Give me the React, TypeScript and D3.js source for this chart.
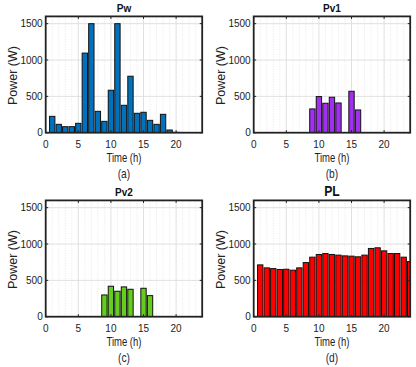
import React from "react";
import { scaleLinear, range } from "d3";

const hours = range(1, 25);
const pw = [225, 115, 83, 83, 129, 1095, 1500, 294, 156, 584, 1500, 377, 777, 267, 281, 170, 115, 253, 37, 5, 0, 0, 0, 0];
const pv1 = [0, 0, 0, 0, 0, 0, 0, 0, 327, 497, 405, 488, 409, 0, 570, 313, 0, 0, 0, 0, 0, 0, 0, 0];
const pv2 = [0, 0, 0, 0, 0, 0, 0, 0, 299, 419, 350, 410, 377, 0, 391, 290, 0, 0, 0, 0, 0, 0, 0, 0];
const pl = [713, 672, 662, 649, 653, 640, 672, 745, 819, 856, 869, 856, 847, 837, 833, 824, 847, 939, 948, 906, 869, 869, 819, 759];

const xTicks = [0, 5, 10, 15, 20];
const yTicks = [0, 500, 1000, 1500];

const FONT = "Liberation Sans, Arial, sans-serif";

type PanelProps = {
  id: string;
  left: number;
  top: number;
  values: number[];
  color: string;
  title: string;
  label: string;
  titleSize?: number;
};

function Panel({ id, left, top, values, color, title, label, titleSize = 11.5 }: PanelProps) {
  const w = 156.5;
  const h = 116.3;
  const x = scaleLinear().domain([0, 24]).range([left, left + w]);
  const y = scaleLinear().domain([0, 1600]).range([top + h, top]);
  const bw = (x(1) - x(0)) * 0.82;
  const bottom = top + h;
  const cx = left + w / 2;

  return (
    <g>
      <clipPath id={"clip-" + id}>
        <rect x={left} y={top} width={w} height={h} />
      </clipPath>
      <rect x={left} y={top} width={w} height={h} fill="#fff" />
      {/* minor grid, every hour */}
      {range(1, 24).filter(d => d % 5 !== 0).map(d => (
        <line key={"m" + d} x1={x(d)} x2={x(d)} y1={top} y2={bottom}
          stroke="#d6d6d6" strokeWidth={0.6} strokeDasharray="1,1.5" />
      ))}
      {xTicks.slice(1).map(d => (
        <line key={"gx" + d} x1={x(d)} x2={x(d)} y1={top} y2={bottom} stroke="#e0e0e0" strokeWidth={1} />
      ))}
      {yTicks.slice(1).map(d => (
        <line key={"gy" + d} x1={left} x2={left + w} y1={y(d)} y2={y(d)} stroke="#e0e0e0" strokeWidth={1} />
      ))}
      <g clipPath={`url(#clip-${id})`}>
        {hours.map((hr, i) => values[i] > 0 ? (
          <rect key={hr} x={x(hr) - bw / 2} y={y(values[i])} width={bw}
            height={bottom - y(values[i])} fill={color} stroke="#111" strokeWidth={1} />
        ) : null)}
      </g>
      {xTicks.map(d => (
        <g key={"tx" + d}>
          <line x1={x(d)} x2={x(d)} y1={bottom} y2={bottom - 2.5} stroke="#222" />
          <line x1={x(d)} x2={x(d)} y1={top} y2={top + 2.5} stroke="#222" />
          <text x={x(d)} y={bottom + 15} textAnchor="middle" fontSize={10} fontFamily={FONT} fill="#222">{d}</text>
        </g>
      ))}
      {yTicks.map(d => (
        <g key={"ty" + d}>
          <line x1={left} x2={left + 2.5} y1={y(d)} y2={y(d)} stroke="#222" />
          <line x1={left + w} x2={left + w - 2.5} y1={y(d)} y2={y(d)} stroke="#222" />
          <text x={left - 3} y={y(d) + 3.5} textAnchor="end" fontSize={10} fontFamily={FONT} fill="#222">{d}</text>
        </g>
      ))}
      <rect x={left} y={top} width={w} height={h} fill="none" stroke="#222" strokeWidth={1.8} />
      <text transform={`translate(${cx},${top - 4.5}) scale(0.87,1)`} textAnchor="middle" fontSize={titleSize}
        fontWeight="bold" fontFamily={FONT} fill="#111">{title}</text>
      <text transform={`translate(${cx},${bottom + 29.3}) scale(0.76,1)`} textAnchor="middle" fontSize={12.5}
        fontFamily={FONT} fill="#222">Time (h)</text>
      <text transform={`translate(${cx},${bottom + 45.5}) scale(0.85,1)`} textAnchor="middle" fontSize={12}
        fontFamily={FONT} fill="#1c2640">{label}</text>
      <text transform={`translate(${left - 29},${top + h / 2 + 1}) rotate(-90)`} textAnchor="middle"
        fontSize={12.5} fontFamily={FONT} fill="#222">Power (W)</text>
    </g>
  );
}

export default function App() {
  return (
    <svg width={416} height={367} style={{ position: "absolute", left: 0, top: 0, background: "#fff" }}>
      <Panel id="a" left={45.7} top={16.4} values={pw} color="#0072BD" title="Pw" label="(a)" />
      <Panel id="b" left={253.7} top={16.4} values={pv1} color="#A22EF0" title="Pv1" label="(b)" />
      <Panel id="c" left={45.7} top={200.4} values={pv2} color="#66CC1F" title="Pv2" label="(c)" />
      <Panel id="d" left={253.7} top={200.4} values={pl} color="#FF0000" title="PL" label="(d)" titleSize={14} />
    </svg>
  );
}
